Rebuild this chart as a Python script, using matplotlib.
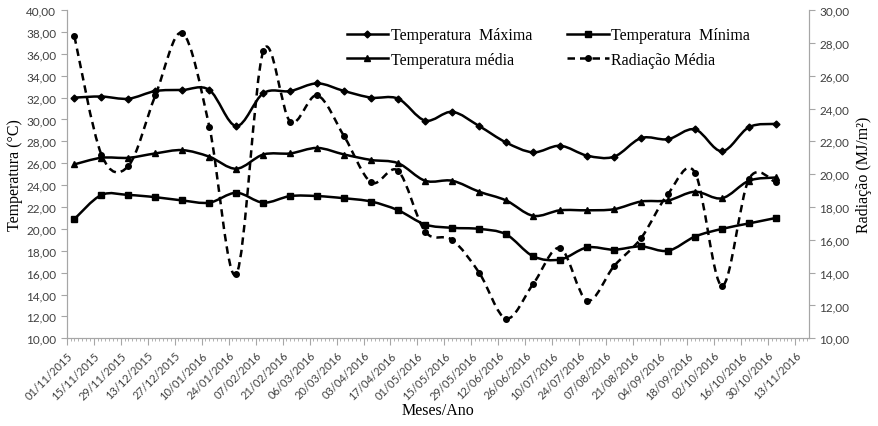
import datetime as dt
import numpy as np
import matplotlib
matplotlib.use("Agg")
import matplotlib.pyplot as plt
import matplotlib.dates as mdates
from matplotlib.path import Path
from matplotlib.patches import PathPatch
from matplotlib.lines import Line2D
from matplotlib.ticker import FuncFormatter, MultipleLocator

# datas das medições (quinzenais)
inicio = dt.date(2015, 11, 5)
datas = [inicio + dt.timedelta(days=14 * k) for k in range(27)]

t_max = [32.0, 32.1, 31.9, 32.6, 32.7, 32.7, 29.4, 32.4, 32.6, 33.3, 32.6, 32.0, 31.9,
         29.9, 30.7, 29.4, 27.9, 27.0, 27.6, 26.7, 26.6, 28.3, 28.2, 29.1, 27.1, 29.3, 29.6]
t_min = [20.9, 23.1, 23.1, 22.9, 22.6, 22.4, 23.3, 22.4, 23.0, 23.0, 22.8, 22.5, 21.7,
         20.4, 20.1, 20.0, 19.5, 17.5, 17.2, 18.3, 18.1, 18.4, 18.0, 19.3, 20.0, 20.5, 21.0]
t_med = [25.9, 26.5, 26.5, 26.9, 27.2, 26.6, 25.5, 26.8, 26.9, 27.4, 26.8, 26.3, 26.0,
         24.4, 24.4, 23.4, 22.6, 21.2, 21.7, 21.7, 21.8, 22.5, 22.6, 23.4, 22.8, 24.4, 24.7]
radiacao = [28.4, 21.2, 20.5, 24.8, 28.6, 22.9, 13.9, 27.5, 23.2, 24.8, 22.3, 19.5, 20.2,
            16.5, 16.0, 14.0, 11.2, 13.3, 15.5, 12.3, 14.4, 16.1, 18.8, 20.1, 13.2, 19.7, 19.5]

rotulos = [dt.date(2015, 11, 1) + dt.timedelta(days=14 * k) for k in range(28)]


def curva_suave(ax, x, y, **kw):
    # linha suavizada (Bezier tipo Catmull-Rom, como no Excel)
    x = np.asarray(x, float)
    y = np.asarray(y, float)
    n = len(x)
    verts = [(x[0], y[0])]
    codes = [Path.MOVETO]
    for i in range(n - 1):
        x0, y0 = (x[i - 1], y[i - 1]) if i > 0 else (x[i], y[i])
        x3, y3 = (x[i + 2], y[i + 2]) if i + 2 < n else (x[i + 1], y[i + 1])
        c1 = (x[i] + (x[i + 1] - x0) / 6, y[i] + (y[i + 1] - y0) / 6)
        c2 = (x[i + 1] - (x3 - x[i]) / 6, y[i + 1] - (y3 - y[i]) / 6)
        verts += [c1, c2, (x[i + 1], y[i + 1])]
        codes += [Path.CURVE4] * 3
    ax.add_patch(PathPatch(Path(verts, codes), fill=False, **kw))


fig = plt.figure(figsize=(8.79, 4.27), dpi=100)
ax = fig.add_axes([0.0759, 0.2054, 0.8441, 0.7686])
ax2 = ax.twinx()

xd = mdates.date2num(datas)
cinza = "#a6a6a6"
lw = 1.8

curva_suave(ax, xd, t_max, edgecolor="black", lw=lw)
curva_suave(ax, xd, t_min, edgecolor="black", lw=lw)
curva_suave(ax, xd, t_med, edgecolor="black", lw=lw)
curva_suave(ax2, xd, radiacao, edgecolor="black", lw=lw, linestyle=(0, (3, 2)))

ax.plot(xd, t_max, ls="none", marker="D", ms=3.5, color="black")
ax.plot(xd, t_min, ls="none", marker="s", ms=4.5, color="black")
ax.plot(xd, t_med, ls="none", marker="^", ms=5, color="black")
ax2.plot(xd, radiacao, ls="none", marker="o", ms=4, color="black")

x0 = mdates.date2num(dt.date(2015, 11, 1))
ax.set_xlim(x0, x0 + 385)
ax.set_ylim(10, 40)
ax2.set_ylim(10, 30)

ax.set_xticks(mdates.date2num(rotulos))
ax.set_xticklabels([d.strftime("%d/%m/%Y") for d in rotulos], rotation=45,
                   ha="right", rotation_mode="anchor", fontsize=8, color="#404040",
                   family="Lato")
ax.xaxis.set_minor_locator(MultipleLocator(2))

virgula = FuncFormatter(lambda v, p: f"{v:.2f}".replace(".", ","))
ax.yaxis.set_major_locator(MultipleLocator(2))
ax2.yaxis.set_major_locator(MultipleLocator(2))
ax.yaxis.set_major_formatter(virgula)
ax2.yaxis.set_major_formatter(virgula)
for a in (ax, ax2):
    for lab in a.get_yticklabels():
        lab.set_family("Lato")
    a.tick_params(axis="y", labelsize=8.5, labelcolor="#404040", color=cinza, length=4)
    for s in a.spines.values():
        s.set_color(cinza)
    a.spines["top"].set_visible(False)
ax.tick_params(axis="x", which="major", color=cinza, length=5, pad=3)
ax.tick_params(axis="x", which="minor", color=cinza, length=2)

fonte = {"family": "Liberation Serif", "size": 11.5}
ax.set_ylabel("Temperatura (°C)", fontdict=fonte, labelpad=2)
ax2.set_ylabel("Radiação (MJ/m²)", fontdict=fonte, labelpad=5)
ax.set_xlabel("Meses/Ano", fontdict=fonte, labelpad=1)

alcas = [
    Line2D([], [], color="black", lw=lw, marker="D", ms=3.5),
    Line2D([], [], color="black", lw=lw, marker="^", ms=5),
    Line2D([], [], color="black", lw=lw, marker="s", ms=4.5),
    Line2D([], [], color="black", lw=lw, marker="o", ms=4, linestyle=(0, (3, 2))),
]
nomes = ["Temperatura  Máxima", "Temperatura média", "Temperatura  Mínima", "Radiação Média"]
ax2.legend(alcas, nomes, ncol=2, loc="upper left", bbox_to_anchor=(0.358, 0.992),
           frameon=False, prop={"family": "Liberation Serif", "size": 11.5},
           handlelength=2.6, handletextpad=0.15, columnspacing=2.2, labelspacing=0.55)

fig.savefig("out.png", dpi=100)
